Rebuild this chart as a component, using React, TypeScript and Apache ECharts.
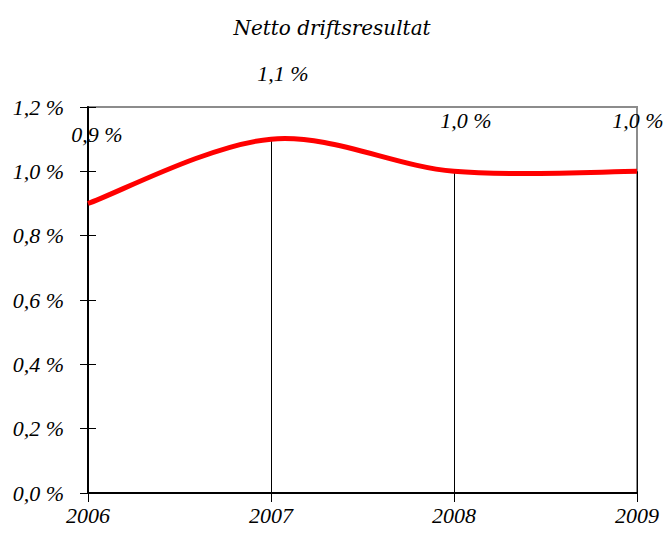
import React, { useEffect, useRef } from "react";
import * as echarts from "echarts";

const titleText = "Netto driftsresultat";
const years = ["2006", "2007", "2008", "2009"];
const values = [0.9, 1.1, 1.0, 1.0];
const labelOffsets: [number, number][] = [
  [9, -58],
  [12, -54],
  [12, -39],
  [1, -39],
];

const fmt = (v: number) => v.toFixed(1).replace(".", ",") + " %";

export default function App() {
  const ref = useRef<HTMLDivElement>(null);
  useEffect(() => {
    if (!ref.current) return;
    const chart = echarts.init(ref.current, null, { renderer: "svg" });
    const font = "'Liberation Serif', 'Times New Roman', serif";
    const titleFont = "'DejaVu Serif', 'Liberation Serif', serif";
    const fs = 22;
    chart.setOption({
      animation: false,
      title: {
        text: titleText,
        left: "center",
        top: 13,
        textStyle: {
          fontFamily: titleFont,
          fontStyle: "italic",
          fontWeight: "normal",
          fontSize: 20,
          color: "#000",
        },
      },
      grid: {
        left: 88,
        right: 27,
        top: 107,
        bottom: 51,
        show: true,
        borderColor: "#8c8c8c",
        borderWidth: 2,
        backgroundColor: "transparent",
      },
      xAxis: {
        type: "category",
        data: years,
        boundaryGap: false,
        axisLine: { show: true, lineStyle: { color: "#000", width: 2 } },
        axisTick: { show: true, inside: false, length: 9, lineStyle: { color: "#000", width: 1 } },
        axisLabel: {
          margin: 11,
          fontFamily: font,
          fontStyle: "italic",
          fontSize: fs,
          color: "#000",
        },
        splitLine: { show: false },
      },
      yAxis: [
        {
          type: "value",
          min: 0,
          max: 1.2,
          interval: 0.2,
          position: "left",
          axisLine: { show: true, lineStyle: { color: "#000", width: 2 } },
          axisTick: { show: true, inside: false, length: 8, lineStyle: { color: "#000", width: 1 } },
          axisLabel: {
            margin: 24,
            formatter: (v: number) => fmt(v),
            fontFamily: font,
            fontStyle: "italic",
            fontSize: fs,
            color: "#000",
          },
          splitLine: { show: false },
        },
        {
          type: "value",
          min: 0,
          max: 1.2,
          interval: 0.2,
          position: "left",
          offset: 0,
          axisLine: { show: false },
          axisTick: { show: true, inside: true, length: 8, lineStyle: { color: "#000", width: 1 } },
          axisLabel: { show: false },
          splitLine: { show: false },
        },
      ],
      series: [
        {
          type: "line",
          data: values.map((v, i) => ({
            value: v,
            label: { offset: labelOffsets[i] },
          })),
          symbol: "circle",
          symbolSize: 1,
          showSymbol: true,
          itemStyle: { color: "rgba(0,0,0,0)" },
          lineStyle: { width: 0, opacity: 0 },
          label: {
            show: true,
            position: "top",
            distance: 0,
            formatter: (p: any) => fmt(p.value),
            fontFamily: font,
            fontStyle: "italic",
            fontSize: fs,
            color: "#000",
          },
          markLine: {
            silent: true,
            symbol: "none",
            label: { show: false },
            lineStyle: { color: "#000", width: 1, type: "solid" },
            data: values.map((v, i) => [
              { coord: [i, 0] },
              { coord: [i, v] },
            ]),
          },
          z: 2,
        },
        {
          type: "custom",
          data: values.map((v, i) => [i, v]),
          encode: { x: 0, y: 1 },
          z: 5,
          silent: true,
          renderItem: (params: any, api: any) => {
            if (params.dataIndex !== 0) return { type: "group", children: [] };
            const pts = values.map((v, i) => api.coord([i, v]));
            const n = pts.length;
            let d = `M${pts[0][0]},${pts[0][1]}`;
            for (let i = 0; i < n - 1; i++) {
              const p0 = pts[Math.max(0, i - 1)];
              const p1 = pts[i];
              const p2 = pts[i + 1];
              const p3 = pts[Math.min(n - 1, i + 2)];
              const c1x = p1[0] + (p2[0] - p0[0]) / 6;
              const c1y = p1[1] + (p2[1] - p0[1]) / 6;
              const c2x = p2[0] - (p3[0] - p1[0]) / 6;
              const c2y = p2[1] - (p3[1] - p1[1]) / 6;
              d += ` C${c1x},${c1y} ${c2x},${c2y} ${p2[0]},${p2[1]}`;
            }
            return {
              type: "path",
              shape: { pathData: d },
              style: { stroke: "#ff0000", lineWidth: 5, fill: "none", lineCap: "butt", lineJoin: "round" },
            };
          },
        },
      ],
    });
    return () => chart.dispose();
  }, []);
  return <div ref={ref} style={{ width: 664, height: 544, position: "absolute", left: 0, top: 0 }} />;
}
